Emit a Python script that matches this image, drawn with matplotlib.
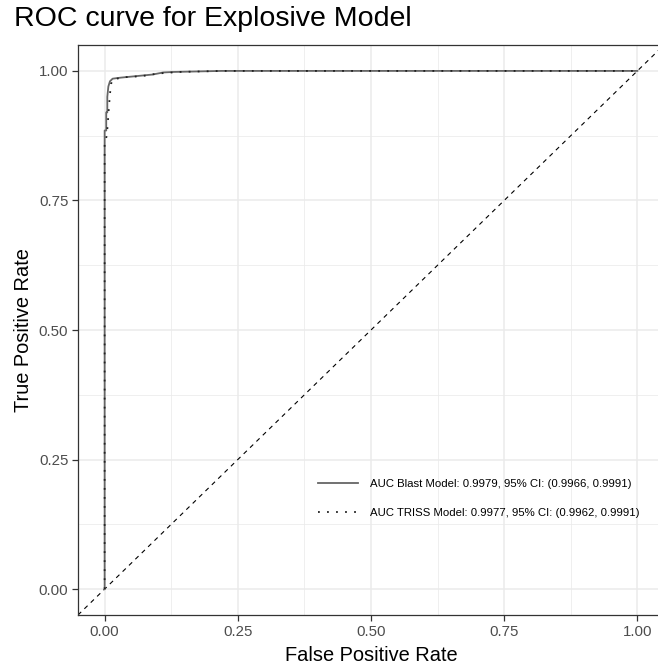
import numpy as np
import matplotlib
matplotlib.use("Agg")
import matplotlib.pyplot as plt
from matplotlib.ticker import MultipleLocator

plt.rcParams["font.family"] = ["Liberation Sans", "DejaVu Sans"]

# ── ROC points ──
blast_fpr = [0.0, 0.0, 0.003, 0.003, 0.005, 0.005, 0.007, 0.010, 0.015, 0.030,
             0.060, 0.090, 0.110, 0.130, 0.220, 1.0]
blast_tpr = [0.0, 0.885, 0.885, 0.920, 0.920, 0.950, 0.970, 0.980, 0.985, 0.987,
             0.990, 0.993, 0.997, 0.998, 1.0, 1.0]

triss_fpr = [0.0, 0.0, 0.004, 0.006, 0.008, 0.010, 0.012, 0.016, 0.040,
             0.070, 0.100, 0.140, 0.220, 1.0]
triss_tpr = [0.0, 0.860, 0.875, 0.900, 0.930, 0.955, 0.975, 0.984, 0.988,
             0.990, 0.995, 0.998, 1.0, 1.0]

blast_label = "AUC Blast Model: 0.9979, 95% CI: (0.9966, 0.9991)"
triss_label = "AUC TRISS Model: 0.9977, 95% CI: (0.9962, 0.9991)"

fig = plt.figure(figsize=(6.58, 6.66), dpi=100, facecolor="white")
# panel runs past the right edge, as in the reference
ax = fig.add_axes([78 / 658, 51 / 666, 586 / 658, 570 / 666])

ax.set_xlim(-0.05, 1.05)
ax.set_ylim(-0.05, 1.05)

ticks = [0, 0.25, 0.5, 0.75, 1.0]
ax.set_xticks(ticks)
ax.set_yticks(ticks)
ax.set_xticklabels(["0.00", "0.25", "0.50", "0.75", "1.00"])
ax.set_yticklabels(["0.00", "0.25", "0.50", "0.75", "1.00"])
ax.xaxis.set_minor_locator(MultipleLocator(0.125))
ax.yaxis.set_minor_locator(MultipleLocator(0.125))

ax.grid(which="major", color="#EBEBEB", linewidth=1.1, zorder=0)
ax.grid(which="minor", color="#EBEBEB", linewidth=0.55, zorder=0)
ax.set_axisbelow(True)

ax.tick_params(which="major", length=4, width=0.9, color="#333333",
               labelcolor="#4D4D4D", labelsize=10.8, pad=3)
ax.tick_params(which="minor", length=0)
for sp in ax.spines.values():
    sp.set_color("#333333")
    sp.set_linewidth(0.9)

ax.axline((0, 0), (1, 1), color="black", linestyle=(0, (4, 4)),
          linewidth=0.8, zorder=2)

ax.plot(blast_fpr, blast_tpr, color="#666666", linewidth=1.3,
        label=blast_label, zorder=3)
ax.plot(triss_fpr, triss_tpr, color="#222222", linewidth=1.3,
        linestyle=(0, (1, 4)), label=triss_label, zorder=4)

leg = ax.legend(loc="upper left", bbox_to_anchor=(318 / 658, 1 - 479 / 666),
                bbox_transform=fig.transFigure, borderaxespad=0, borderpad=0,
                frameon=False, fontsize=8.2, handlelength=3.5,
                handletextpad=1.1, labelspacing=1.65)

ax.set_xlabel("False Positive Rate", fontsize=14.4, labelpad=5)
ax.set_ylabel("True Positive Rate", fontsize=14.4, labelpad=4)
fig.text(14 / 658, 1 - 19 / 666, "ROC curve for Explosive Model",
         fontsize=20.5, ha="left", va="center")

fig.savefig("out.png", dpi=100, facecolor="white")
